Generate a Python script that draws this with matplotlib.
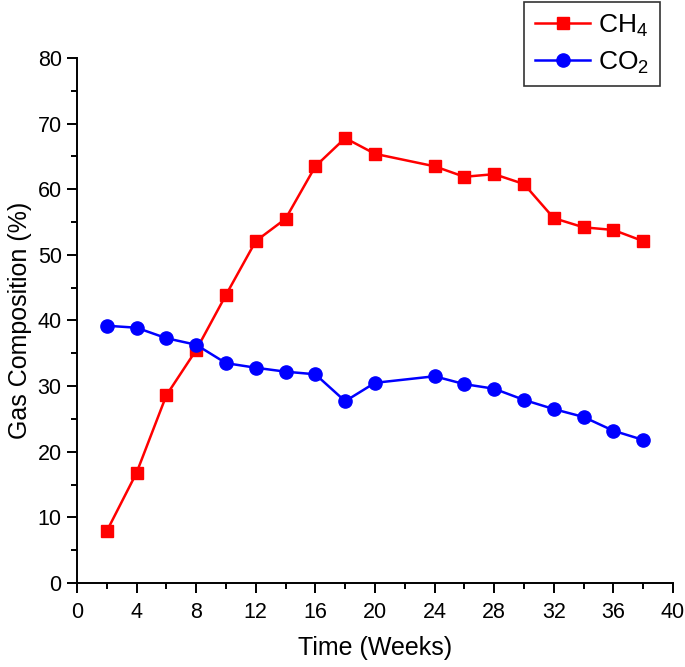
import numpy as np
import matplotlib
matplotlib.use('Agg')
import matplotlib.pyplot as plt
from matplotlib import rcParams
from matplotlib.ticker import MultipleLocator

rcParams.update({'font.family': 'Liberation Sans', 'mathtext.default': 'regular', 'font.size': 14})

weeks = [2, 4, 6, 8, 10, 12, 14, 16, 18, 20, 24, 26, 28, 30, 32, 34, 36, 38]
ch4 = [7.9, 16.8, 28.6, 35.5, 43.9, 52.1, 55.5, 63.5, 67.8, 65.4,
       63.5, 61.9, 62.3, 60.8, 55.6, 54.2, 53.8, 52.1]
co2 = [39.2, 38.9, 37.3, 36.3, 33.5, 32.8, 32.2, 31.8, 27.7, 30.5,
       31.5, 30.3, 29.6, 27.9, 26.5, 25.3, 23.2, 21.8]

fig = plt.figure(figsize=(6.85, 6.67), dpi=100)
ax = fig.add_axes([0.1124, 0.126, 0.870, 0.787])

ax.plot(weeks, ch4, color='red', marker='s', markersize=8.5, linewidth=1.8, label='CH$_4$')
ax.plot(weeks, co2, color='blue', marker='o', markersize=9.5, linewidth=1.8, label='CO$_2$')

ax.set_xlim(0, 40)
ax.set_ylim(0, 80)
ax.xaxis.set_major_locator(MultipleLocator(4))
ax.xaxis.set_minor_locator(MultipleLocator(2))
ax.yaxis.set_major_locator(MultipleLocator(10))
ax.yaxis.set_minor_locator(MultipleLocator(5))
ax.tick_params(which='major', direction='out', length=7, width=1.4, labelsize=15.5, pad=4)
ax.tick_params(axis='x', which='major', pad=7)
ax.tick_params(which='minor', direction='out', length=4, width=1.4)
for s in ['top', 'right']:
    ax.spines[s].set_visible(False)
for s in ['left', 'bottom']:
    ax.spines[s].set_linewidth(1.4)

ax.set_xlabel('Time (Weeks)', fontsize=18, labelpad=9)
ax.set_ylabel('Gas Composition (%)', fontsize=18, labelpad=4)

leg = fig.legend(loc='upper right', bbox_to_anchor=(660 / 685, 665 / 667), fontsize=19,
                 fancybox=False, framealpha=1, edgecolor='#333333',
                 handlelength=2.1, handletextpad=0.3, borderpad=0.4, labelspacing=0.4,
                 borderaxespad=0)
leg.get_frame().set_linewidth(1.2)

fig.savefig('out.png', dpi=100)
